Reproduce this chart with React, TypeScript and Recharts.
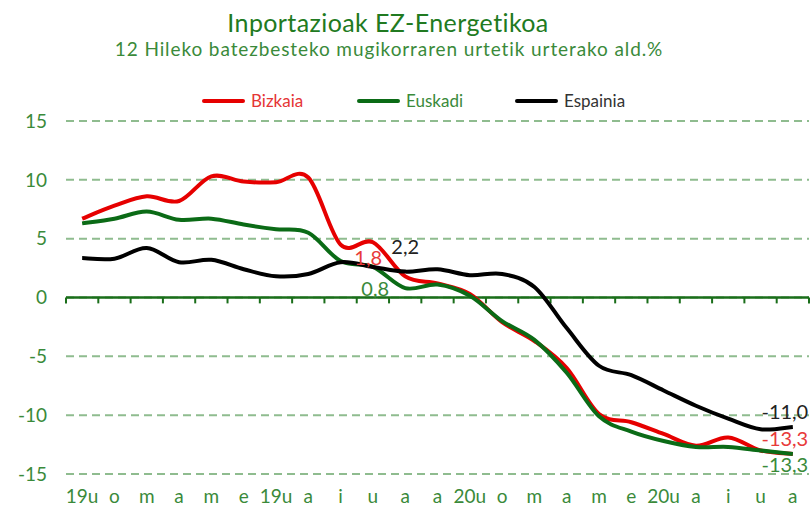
import React from 'react';
import { LineChart, Line, XAxis, YAxis, CartesianGrid, ReferenceLine, LabelList } from 'recharts';

const months = ['19u', 'o', 'm', 'a', 'm', 'e', '19u', 'a', 'i', 'u', 'a', 'a', '20u', 'o', 'm', 'a', 'm', 'e', '20u', 'a', 'i', 'u', 'a'];
const bizkaia = [6.7, 7.8, 8.6, 8.2, 10.3, 9.85, 9.8, 10.2, 4.5, 4.7, 1.8, 1.2, 0.3, -2.1, -3.7, -6.0, -9.9, -10.6, -11.6, -12.6, -11.9, -13.0, -13.3];
const euskadi = [6.3, 6.7, 7.3, 6.6, 6.7, 6.2, 5.8, 5.5, 3.1, 2.6, 0.8, 1.1, 0.15, -2.0, -3.6, -6.4, -10.1, -11.4, -12.2, -12.7, -12.7, -13.0, -13.3];
const espainia = [3.35, 3.3, 4.2, 3.0, 3.2, 2.4, 1.8, 2.0, 3.0, 2.6, 2.2, 2.4, 1.9, 2.0, 0.9, -2.6, -5.8, -6.6, -7.9, -9.2, -10.3, -11.2, -11.0];
const yTicks = [-15, -10, -5, 0, 5, 10, 15];
const labelIndices = [10, 22];

const data = months.map((m, i) => ({ i, m, bizkaia: bizkaia[i], euskadi: euskadi[i], espainia: espainia[i] }));
const xTicks = months.map((_, i) => i);
const boundaries = [...months.map((_, i) => i - 0.5), months.length - 0.5];

const RED = '#e60000';
const GREEN = '#0b6b16';
const BLACK = '#000000';
const AXIS_GREEN = '#3a8a3a';
const FONT = 'Lato, "Open Sans", sans-serif';

// Excel-like smoothed line (Catmull-Rom through points)
const smoothCurve: any = (context: any) => {
  let pts: number[][] = [];
  return {
    areaStart() {},
    areaEnd() {},
    lineStart() { pts = []; },
    point(x: number, y: number) { pts.push([+x, +y]); },
    lineEnd() {
      if (!pts.length) return;
      context.moveTo(pts[0][0], pts[0][1]);
      for (let k = 0; k < pts.length - 1; k++) {
        const p0 = pts[k - 1] || pts[k];
        const p1 = pts[k];
        const p2 = pts[k + 1];
        const p3 = pts[k + 2] || p2;
        context.bezierCurveTo(
          p1[0] + (p2[0] - p0[0]) / 6, p1[1] + (p2[1] - p0[1]) / 6,
          p2[0] - (p3[0] - p1[0]) / 6, p2[1] - (p3[1] - p1[1]) / 6,
          p2[0], p2[1]
        );
      }
    },
  };
};

const fmt = (v: number) => v.toFixed(1).replace('.', ',');

const makeLabel = (color: string, offsets: Record<number, [number, number]>) => (props: any) => {
  const { x, y, value, index } = props;
  if (!labelIndices.includes(index)) return null;
  const [dx, dy] = offsets[index];
  return (
    <text x={x + dx} y={y + dy} fill={color} fontSize={20} fontFamily={FONT} textAnchor="middle" dominantBaseline="central">
      {fmt(value)}
    </text>
  );
};

const legendItems = [
  { name: 'Bizkaia', color: RED, text: '#e53535' },
  { name: 'Euskadi', color: GREEN, text: '#3a8a3a' },
  { name: 'Espainia', color: BLACK, text: '#333333' },
];

export default function App() {
  return (
    <div style={{ position: 'absolute', left: 0, top: 0, width: 812, height: 514, background: '#fff' }}>
      <div style={{ position: 'absolute', left: 0, top: 8, width: 776, textAlign: 'center', fontFamily: FONT, fontSize: 25, letterSpacing: 0.4, lineHeight: '28px', color: '#217a21' }}>
        Inportazioak EZ-Energetikoa
      </div>
      <div style={{ position: 'absolute', left: 0, top: 38, width: 778, textAlign: 'center', fontFamily: FONT, fontSize: 19, letterSpacing: 0.9, lineHeight: '22px', color: '#3a8a3a' }}>
        12 Hileko batezbesteko mugikorraren urtetik urterako ald.%
      </div>
      <div style={{ position: 'absolute', left: 202, top: 90, display: 'flex', fontFamily: FONT, fontSize: 17, lineHeight: '22px' }}>
        {legendItems.map((it, k) => (
          <div key={it.name} style={{ display: 'flex', alignItems: 'center', width: k === 0 ? 155 : 158 }}>
            <div style={{ width: 43, height: 4, background: it.color, borderRadius: 2, marginRight: 6 }} />
            <span style={{ color: it.text }}>{it.name}</span>
          </div>
        ))}
      </div>
      <LineChart width={812} height={514} data={data} margin={{ top: 121, right: 3, bottom: 10, left: 0 }} style={{ position: 'absolute', left: 0, top: 0 }}>
        <CartesianGrid horizontal vertical={false} stroke="#8fbc8f" strokeWidth={2} strokeDasharray="8 5" />
        <XAxis
          dataKey="i"
          type="number"
          domain={[-0.5, 22.5]}
          ticks={xTicks}
          interval={0}
          tickFormatter={(v: number) => months[v]}
          axisLine={false}
          tickLine={false}
          tickSize={0}
          tickMargin={16}
          height={30}
          tick={{ fill: AXIS_GREEN, fontSize: 19, fontFamily: FONT }}
        />
        <YAxis
          domain={[-15, 15]}
          ticks={yTicks}
          width={66}
          axisLine={false}
          tickLine={false}
          tickSize={0}
          tickMargin={19}
          tick={{ fill: AXIS_GREEN, fontSize: 19, fontFamily: FONT }}
        />
        <ReferenceLine y={0} stroke="#1a6e1a" strokeWidth={2.5} />
        {boundaries.map((b) => (
          <ReferenceLine key={b} segment={[{ x: b, y: 0 }, { x: b, y: -0.5 }]} stroke="#1a6e1a" strokeWidth={2} />
        ))}
        <Line dataKey="bizkaia" name="Bizkaia" stroke={RED} strokeWidth={4} dot={false} type={smoothCurve} isAnimationActive={false}>
          <LabelList dataKey="bizkaia" content={makeLabel('#e83a3a', { 10: [-37, -19], 22: [-8, -16] })} />
        </Line>
        <Line dataKey="euskadi" name="Euskadi" stroke={GREEN} strokeWidth={4} dot={false} type={smoothCurve} isAnimationActive={false}>
          <LabelList dataKey="euskadi" content={makeLabel('#3a8a3a', { 10: [-30, 0], 22: [-8, 10] })} />
        </Line>
        <Line dataKey="espainia" name="Espainia" stroke={BLACK} strokeWidth={4} dot={false} type={smoothCurve} isAnimationActive={false}>
          <LabelList dataKey="espainia" content={makeLabel('#222222', { 10: [0, -26], 22: [-8, -16] })} />
        </Line>
      </LineChart>
    </div>
  );
}
